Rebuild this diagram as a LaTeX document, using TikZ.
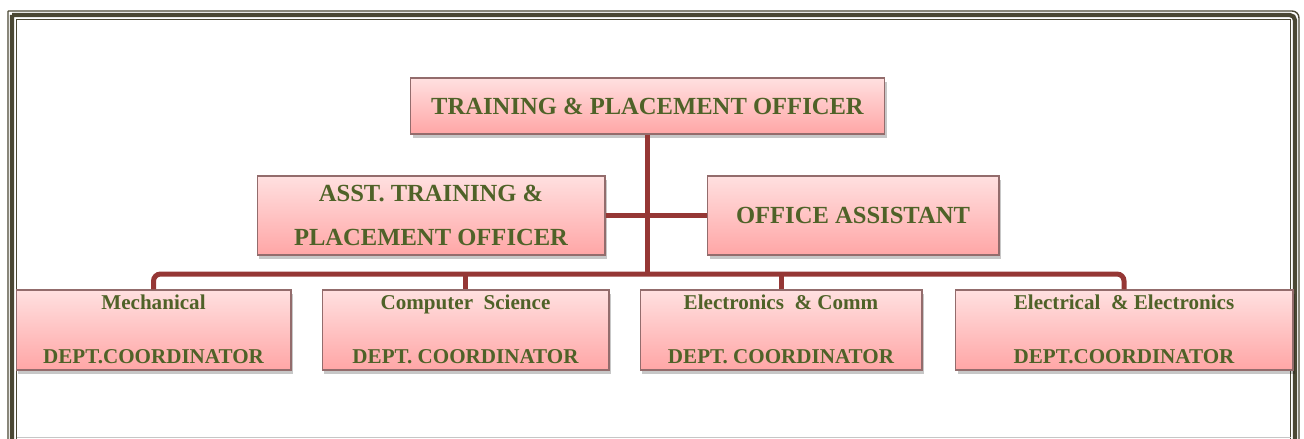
\documentclass[tikz,border=0pt]{standalone}
\usepackage{fontspec}
\setmainfont{Liberation Serif}
\usepackage{tikz}
\usetikzlibrary{positioning,shadows}

\definecolor{olivetxt}{HTML}{4F6228}
\definecolor{linkred}{HTML}{953735}
\definecolor{framecol}{HTML}{4A4733}
\definecolor{pinktop}{HTML}{FFE0E0}
\definecolor{pinkbot}{HTML}{FFA6A6}

\begin{document}
\begin{tikzpicture}[x=0.02cm, y=-0.02cm,
		box/.style = {draw=gray!85!red, line width=0.6pt, top color=pinktop, bottom color=pinkbot,
			drop shadow={shadow xshift=1.4pt, shadow yshift=-2pt, fill=black, opacity=.22},
			text=olivetxt, font=\bfseries, align=center, inner sep=0pt},
		bigbox/.style  = {box, font=\bfseries\fontsize{14}{25.5}\selectfont},
		deptbox/.style = {box, minimum width=#1, minimum height=1.6cm, text depth=1.2pt,
			font=\bfseries\fontsize{12}{31}\selectfont},
		link/.style = {draw=linkred, line width=0.1cm}]
		\useasboundingbox (0,0) rectangle (1304,439);
		\clip (0,0) rectangle (1304,439);
		% Frame
		\draw[framecol, line width=0.8pt, rounded corners=4pt] (8,11) -- (1299,11) -- (1299,470) (8,470) -- (8,11);
		\draw[framecol, line width=2.4pt, rounded corners=3pt] (12,15) -- (1295,15) -- (1295,470) (12,470) -- (12,15);
		\draw[framecol, line width=0.8pt] (16.5,19.5) -- (1290.5,19.5) -- (1290.5,470) (16.5,470) -- (16.5,19.5);
		\draw[gray!45, line width=0.6pt] (16.5,437.5) -- (1290.5,437.5);
		% Nodes
		\node[bigbox, minimum width=9.5cm, minimum height=1.12cm] (tpo) at (647.5,106)
			{TRAINING \& PLACEMENT OFFICER};
		\node[bigbox, minimum width=6.96cm, minimum height=1.58cm] (asst) at (431,215.5)
			{ASST. TRAINING \&\\PLACEMENT OFFICER};
		\node[bigbox, minimum width=5.84cm, minimum height=1.58cm] (office) at (853,215.5)
			{OFFICE ASSISTANT};
		\node[deptbox=5.5cm] (mech) at (153.5,330) {Mechanical\\DEPT.COORDINATOR};
		\node[deptbox=5.74cm] (cse) at (465.5,330) {Computer\ \ Science\\DEPT. COORDINATOR};
		\node[deptbox=5.64cm] (ece) at (781,330) {Electronics\ \ \& Comm\\DEPT. COORDINATOR};
		\node[deptbox=6.76cm] (eee) at (1124,330) {Electrical\ \ \& Electronics\\DEPT.COORDINATOR};
		\coordinate (bus) at (648,274);
		% Links
		\path[link] (tpo.south) -- (tpo.south |- bus);
		\path[link] (asst.east) -- (office.west);
		\path[link, rounded corners=4pt] (mech.north) -- (mech.north |- bus) -| (eee.north);
		\path[link] (cse.north) -- (cse.north |- bus);
		\path[link] (ece.north) -- (ece.north |- bus);
	\end{tikzpicture}
\end{document}
